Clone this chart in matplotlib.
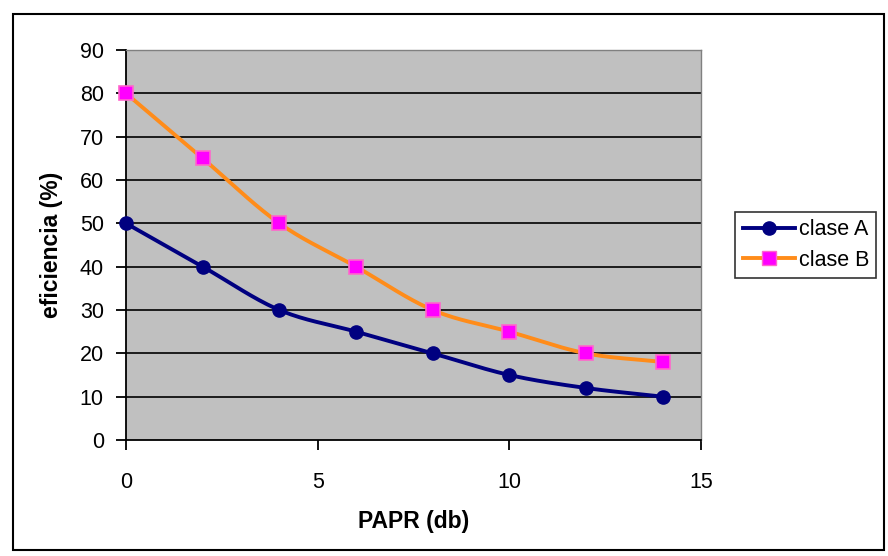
import numpy as np
import matplotlib
matplotlib.use("Agg")
import matplotlib.pyplot as plt
from matplotlib.patches import Rectangle
from matplotlib.lines import Line2D

papr = [0, 2, 4, 6, 8, 10, 12, 14]
clase_a = [50, 40, 30, 25, 20, 15, 12, 10]
clase_b = [80, 65, 50, 40, 30, 25, 20, 18]
series_names = ["clase A", "clase B"]
x_ticks = [0, 5, 10, 15]
y_ticks = [0, 10, 20, 30, 40, 50, 60, 70, 80, 90]


def smooth(x, y, n=20):
    # Catmull-Rom style smoothing (like Excel's smoothed line)
    x = np.asarray(x, float)
    y = np.asarray(y, float)
    px = np.concatenate([[2 * x[0] - x[1]], x, [2 * x[-1] - x[-2]]])
    py = np.concatenate([[2 * y[0] - y[1]], y, [2 * y[-1] - y[-2]]])
    xs, ys = [], []
    t = np.linspace(0, 1, n)
    for i in range(1, len(px) - 2):
        p0, p1, p2, p3 = [np.array([px[j], py[j]]) for j in (i - 1, i, i + 1, i + 2)]
        c1 = p1 + (p2 - p0) / 6.0
        c2 = p2 - (p3 - p1) / 6.0
        pts = ((1 - t) ** 3)[:, None] * p1 + (3 * (1 - t) ** 2 * t)[:, None] * c1 \
            + (3 * (1 - t) * t ** 2)[:, None] * c2 + (t ** 3)[:, None] * p2
        xs.append(pts[:, 0])
        ys.append(pts[:, 1])
    return np.concatenate(xs), np.concatenate(ys)


plt.rcParams['font.family'] = ['Liberation Sans', 'DejaVu Sans']

fig = plt.figure(figsize=(8.88, 5.56), dpi=100)
fig.patch.set_facecolor('white')
fig.patches.append(Rectangle((13 / 888, 1 - 550 / 556), (884 - 13) / 888, (550 - 14) / 556,
                             transform=fig.transFigure, fill=False, edgecolor='black',
                             linewidth=1.5, zorder=0))

ax = fig.add_axes([126 / 888, 1 - 440 / 556, (701 - 126) / 888, (440 - 50) / 556])
ax.set_facecolor('#C0C0C0')

col_a = '#000080'
col_b_line = '#FF8C1A'
col_b_mark = '#FF00FF'

for yv in y_ticks[1:]:
    ax.axhline(yv, color='black', linewidth=1.2, zorder=1)

sx, sy = smooth(papr, clase_a)
ax.plot(sx, sy, color=col_a, linewidth=2.8, zorder=3, clip_on=False)
ax.plot(papr, clase_a, linestyle='none', marker='o', markersize=9.5,
        color=col_a, zorder=4, clip_on=False)

sx, sy = smooth(papr, clase_b)
ax.plot(sx, sy, color=col_b_line, linewidth=2.8, zorder=3, clip_on=False)
ax.plot(papr, clase_b, linestyle='none', marker='s', markersize=9.5,
        markerfacecolor=col_b_mark, markeredgecolor='#FF66CC', markeredgewidth=1.2,
        zorder=4, clip_on=False)

ax.set_xlim(0, 15)
ax.set_ylim(0, 90)
ax.set_xticks(x_ticks)
ax.set_yticks(y_ticks)
ax.tick_params(axis='x', direction='out', length=7, width=1.3, pad=16, labelsize=15.5)
ax.tick_params(axis='y', direction='out', length=7, width=1.3, pad=9, labelsize=15.5)

for side in ['top', 'right']:
    ax.spines[side].set_color('#808080')
    ax.spines[side].set_linewidth(1.0)
for side in ['left', 'bottom']:
    ax.spines[side].set_color('black')
    ax.spines[side].set_linewidth(1.3)

ax.set_xlabel('PAPR (db)', fontsize=16.5, fontweight='bold', labelpad=12)
ax.set_ylabel('eficiencia (%)', fontsize=16.5, fontweight='bold', labelpad=12)

handles = [
    Line2D([], [], color=col_a, linewidth=2.8, marker='o', markersize=9.5),
    Line2D([], [], color=col_b_line, linewidth=2.8, marker='s', markersize=9.5,
           markerfacecolor=col_b_mark, markeredgecolor='#FF66CC'),
]
leg = fig.legend(handles, series_names, loc='center left',
                 bbox_to_anchor=(735 / 888, 1 - 245 / 556), fontsize=15.5,
                 frameon=True, fancybox=False, edgecolor='black',
                 handlelength=2.45, handletextpad=0.15, borderpad=0.35,
                 labelspacing=0.45, borderaxespad=0)
leg.get_frame().set_linewidth(1.2)

fig.savefig('out.png', dpi=100, facecolor='white')
